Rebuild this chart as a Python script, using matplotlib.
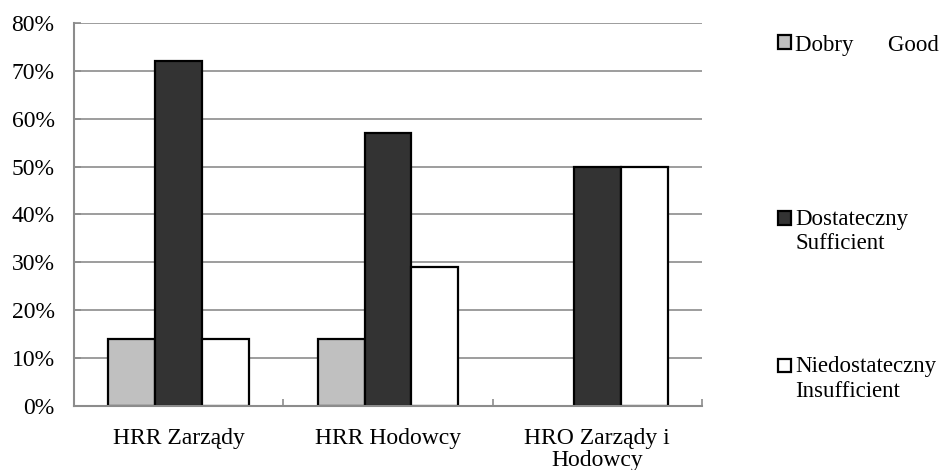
import matplotlib
matplotlib.use("Agg")
import matplotlib.pyplot as plt
from matplotlib.patches import Rectangle
from matplotlib.legend_handler import HandlerPatch
import numpy as np

categories = ["HRR Zarządy", "HRR Hodowcy", "HRO Zarządy i\nHodowcy"]
series_names = ["Dobry      Good", "Dostateczny\nSufficient", "Niedostateczny\nInsufficient"]
dobry = [14, 14, 0]
dostateczny = [72, 57, 50]
niedostateczny = [14, 29, 50]
yticks = [0, 10, 20, 30, 40, 50, 60, 70, 80]
colors = ["#c0c0c0", "#333333", "#ffffff"]

plt.rcParams['font.family'] = ['Liberation Serif', 'DejaVu Serif']
FS = 17
GRID = "#8c8c8c"

fig = plt.figure(figsize=(9.46, 4.70), dpi=100)
ax = fig.add_axes([74/946, 1-406/470, (702-74)/946, (406-23)/470])

x = np.arange(len(categories))
w = 0.224
bars = []
for j, vals in enumerate([dobry, dostateczny, niedostateczny]):
    b = ax.bar(x + (j-1)*w, vals, width=w, color=colors[j], edgecolor="black",
               linewidth=1.6, zorder=2)
    for rect in b:
        if rect.get_height() == 0:
            rect.set_linewidth(0)
    bars.append(b)

ax.set_xlim(-0.5, len(categories)-0.5)
ax.set_ylim(0, 80)
ax.set_yticks(yticks)
ax.set_yticklabels([f"{v}%" for v in yticks], fontsize=FS)
ax.yaxis.grid(True, color=GRID, linewidth=1.2, zorder=0)
ax.set_axisbelow(True)

ax.set_xticks(np.arange(len(categories)+1) - 0.5)
ax.set_xticklabels([])
ax.set_xticks(x, minor=True)
ax.set_xticklabels(categories, minor=True, fontsize=FS, linespacing=1.05)
ax.tick_params(axis='x', which='minor', length=0, pad=16)
ax.tick_params(axis='x', which='major', direction='in', length=5, color=GRID, width=1.2)
ax.tick_params(axis='y', direction='in', length=5, color=GRID, width=1.2, pad=14)

for s in ['top', 'right']:
    ax.spines[s].set_visible(False)
for s in ['left', 'bottom']:
    ax.spines[s].set_color(GRID)
    ax.spines[s].set_linewidth(1.5)
    ax.spines[s].set_zorder(3)

def make_handler(shift):
    def pf(legend, orig_handle, xdescent, ydescent, width, height, fontsize):
        return Rectangle((-xdescent, -ydescent + shift), width, height)
    return HandlerPatch(patch_func=pf)

positions = [(45, 0.0), (231.5, 9.7), (379, 9.7)]
for j, (yc, sh) in enumerate(positions):
    h = bars[j][0]
    fig.legend([h], [series_names[j]], loc='center left',
               bbox_to_anchor=(778/946, 1-yc/470), frameon=False,
               fontsize=16.5, borderpad=0, borderaxespad=0,
               handlelength=0.55, handleheight=0.55, handletextpad=0.2,
               handler_map={h: make_handler(sh)})

fig.savefig("out.png", dpi=100, facecolor="white")
